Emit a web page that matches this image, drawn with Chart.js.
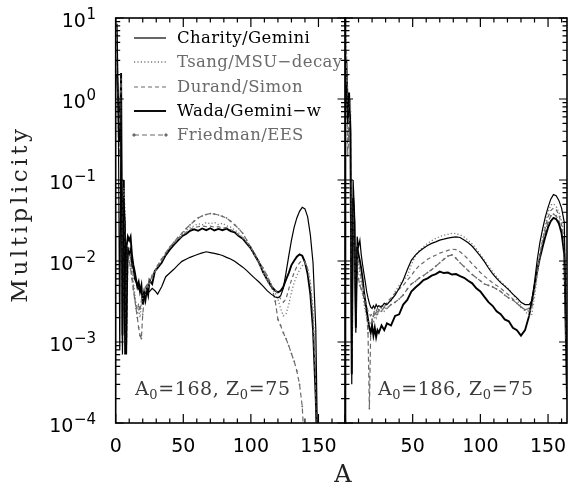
<!DOCTYPE html>
<html><head><meta charset="utf-8">
<script src="https://cdn.jsdelivr.net/npm/chart.js@4.4.0/dist/chart.umd.min.js"></script>
<style>
html,body{margin:0;padding:0;background:#fff;}
#wrap{position:relative;width:574px;height:484px;overflow:hidden;background:#fff;}
canvas{position:absolute;top:0;}
#c1{left:0;width:574px;height:484px;}
#c2{left:335px;width:239px;height:484px;}
</style></head><body>
<div id="wrap"><canvas id="c1" width="574" height="484"></canvas><canvas id="c2" width="239" height="484"></canvas></div>
<script>
// ---------------- data ----------------
const seriesNames = ['Charity/Gemini', 'Tsang/MSU\u2212decay', 'Durand/Simon', 'Wada/Gemini\u2212w', 'Friedman/EES'];
const yTickExponents = [1, 0, -1, -2, -3, -4];
const leftXTicks = [0, 50, 100, 150];
const rightXTicks = [50, 100, 150];
const panelA0 = [168, 186];
const panelZ0 = [75, 75];

const leftA = [1,2,3,4,5,6,7,8,9,10,11,12,13,14,15,16,17,18,19,20,21,22,23,24,25,
  27,29,31,
  34,37,40,43,46,49,52,55,58,61,64,67,70,73,76,79,82,85,88,91,94,97,100,103,106,109,112,115,118,
  120,122,124,126,128,130,132,134,136,138,140,142,144,146,148,150];

const leftCharity = [8.5,0.5,0.0008,1.2,0.0007,0.06,0.03,0.0007,0.015,0.012,0.014,0.009,0.008,0.006,0.0055,0.005,0.0045,0.0042,0.004,0.0038,0.0042,0.004,0.0039,0.0041,0.0042,
  0.0046,0.0043,0.0039,
  0.0048,0.0064,0.0071,0.0079,0.0089,0.0099,0.0105,0.0111,0.0116,0.0121,0.0126,0.0130,0.0127,0.0124,0.0121,0.0117,0.0111,0.0106,0.0099,0.0091,0.0084,0.0076,0.0068,0.0061,0.0055,0.0049,0.0043,0.0039,0.0036,
  0.0035,0.0037,0.0046,0.0072,0.0115,0.018,0.026,0.034,0.041,0.046,0.044,0.035,0.021,0.0094,0.0015,0.00001];

const leftTsang = [7,0.7,0.5,1.0,0.001,0.08,0.04,0.001,0.012,0.015,0.01,0.008,0.006,0.004,0.003,0.0022,0.0025,0.002,0.003,0.0035,0.0045,0.004,0.005,0.0048,0.006,
  0.0062,0.0078,0.0085,
  0.0105,0.0122,0.015,0.0168,0.0192,0.0212,0.0238,0.0258,0.0272,0.0288,0.028,0.0298,0.0288,0.0300,0.0282,0.0292,0.0272,0.0262,0.0242,0.0222,0.0192,0.0172,0.0142,0.0116,0.0091,0.0072,0.0057,0.0047,0.004,
  0.0034,0.0026,0.0021,0.0022,0.0029,0.0041,0.0054,0.0066,0.0077,0.0087,0.0092,0.0083,0.0056,0.0026,0.0004,0.00001];

const leftDurand = [5,0.4,0.6,1.8,0.0009,0.05,0.025,0.0009,0.01,0.013,0.011,0.007,0.005,0.0035,0.0028,0.0025,0.003,0.0024,0.0033,0.004,0.0042,0.0048,0.0045,0.0055,0.0052,
  0.0068,0.0072,0.0088,
  0.0100,0.0125,0.0145,0.0165,0.0185,0.0205,0.0225,0.0245,0.026,0.0265,0.027,0.0265,0.027,0.0262,0.0265,0.0255,0.0258,0.0245,0.023,0.021,0.0195,0.017,0.0148,0.0122,0.0098,0.0078,0.006,0.005,0.0044,
  0.0039,0.0034,0.0031,0.0034,0.0045,0.0058,0.0072,0.0085,0.0095,0.0102,0.0098,0.008,0.005,0.002,0.0003,0.00001];

const leftWada = [2.0,0.9,0.3,2.1,0.0012,0.1,0.0007,0.015,0.02,0.018,0.02,0.012,0.009,0.0075,0.006,0.0048,0.0055,0.0042,0.005,0.0029,0.004,0.0033,0.0045,0.0038,0.0058,
  0.0052,0.0075,0.0082,
  0.0095,0.0118,0.0138,0.0158,0.0178,0.0202,0.0215,0.0236,0.0246,0.0236,0.0252,0.0240,0.0254,0.0238,0.0249,0.0240,0.0251,0.0234,0.0226,0.0204,0.0189,0.0164,0.0143,0.0117,0.0096,0.0073,0.0059,0.0049,0.0043,
  0.0041,0.0043,0.0048,0.0059,0.0071,0.0089,0.0101,0.0113,0.0121,0.0116,0.0097,0.0069,0.0039,0.0014,0.0002,0.00001];

const leftFriedman = [3,0.3,0.2,0.8,0.002,0.03,0.02,0.002,0.012,0.01,0.008,0.006,0.0045,0.0035,0.0026,0.002,0.0015,0.0012,0.0011,0.0022,0.0032,0.0038,0.0044,0.005,0.0055,
  0.0065,0.0076,0.0088,
  0.0106,0.0126,0.0148,0.017,0.0195,0.022,0.025,0.028,0.031,0.034,0.036,0.0375,0.0385,0.038,0.037,0.0355,0.034,0.031,0.028,0.025,0.022,0.018,0.0148,0.012,0.0098,0.0082,0.0066,0.0052,0.0032,
  0.0019,0.0016,0.0013,0.0011,0.0009,0.00072,0.00058,0.00044,0.0003,0.00016,0.00004,null,null,null,null,null];

const rightA = [1,2,3,4,5,6,7,8,9,10,11,12,13,14,15,16,17,18,19,20,21,22,23,24,25,
  27,29,31,
  34,37,40,43,46,49,52,55,58,61,64,67,70,73,76,79,82,85,88,91,94,97,100,103,106,109,112,115,118,121,124,127,130,133,
  136,138,140,142,144,146,148,150,152,154,156,158,160,162,164,166];

const rightCharity = [1.5,0.5,0.8,0.6,0.0003,0.1,0.04,0.0013,0.02,0.015,0.018,0.012,0.009,0.007,0.0055,0.0042,0.0035,0.003,0.0027,0.0026,0.0028,0.0026,0.0029,0.0027,0.0028,
  0.0027,0.0030,0.0029,
  0.0033,0.0038,0.0046,0.0058,0.0078,0.0102,0.0118,0.0132,0.0144,0.0155,0.0165,0.0172,0.0181,0.0186,0.0192,0.0196,0.0199,0.0195,0.0182,0.0168,0.0152,0.0132,0.0115,0.0098,0.0082,0.0070,0.0061,0.0054,0.0049,0.0044,0.0039,0.0035,0.0031,0.0029,
  0.0029,0.0032,0.0055,0.0103,0.017,0.025,0.035,0.046,0.058,0.066,0.064,0.056,0.045,0.03,0.0003,0.000001];

const rightTsang = [6,0.3,0.5,1.0,0.0008,0.05,0.02,0.002,0.01,0.009,0.007,0.005,0.004,0.003,0.0024,0.002,0.0018,0.0016,0.0017,0.0019,0.0017,0.0022,0.002,0.0025,0.0023,
  0.0026,0.0024,0.003,
  0.0032,0.0042,0.005,0.0058,0.0064,0.009,0.0115,0.0135,0.015,0.0165,0.0178,0.019,0.020,0.0208,0.0213,0.022,0.0218,0.021,0.0198,0.018,0.0162,0.0142,0.012,0.0102,0.0086,0.0074,0.0064,0.0056,0.005,0.0045,0.0039,0.0033,0.0028,0.0024,
  0.0021,0.0022,0.0035,0.0065,0.012,0.019,0.028,0.04,0.049,0.051,0.047,0.04,0.031,0.02,0.0002,0.000001];

const rightDurand = [4,0.6,0.3,0.9,0.0006,0.04,0.03,0.0025,0.012,0.01,0.008,0.006,0.005,0.004,0.0033,0.0028,0.0024,0.0022,0.0021,0.0023,0.0022,0.0025,0.0024,0.0026,0.0025,
  0.0028,0.0027,0.0031,
  0.0035,0.004,0.0045,0.005,0.0058,0.0066,0.0078,0.0088,0.0096,0.0105,0.0112,0.0118,0.0125,0.013,0.0135,0.014,0.0138,0.013,0.0118,0.0105,0.0092,0.0082,0.0072,0.0065,0.0059,0.0054,0.005,0.0046,0.0042,0.0038,0.0034,0.003,0.0027,0.0025,
  0.0024,0.0026,0.0042,0.0072,0.012,0.018,0.026,0.035,0.042,0.045,0.043,0.037,0.028,0.017,0.0002,0.000001];

const rightWada = [3,0.8,1.2,0.4,0.0004,0.06,0.03,0.0015,0.015,0.012,0.01,0.008,0.006,0.0042,0.0032,0.0025,0.0019,0.0015,0.0013,0.0016,0.0012,0.0015,0.00115,0.0014,0.0013,
  0.0016,0.0014,0.0017,
  0.0016,0.0021,0.0022,0.0029,0.0033,0.0042,0.0047,0.0052,0.0058,0.0061,0.0066,0.0069,0.0074,0.0071,0.0072,0.0068,0.0069,0.0065,0.0062,0.0057,0.0053,0.0046,0.0042,0.0036,0.0031,0.0028,0.0024,0.0022,0.0019,0.0018,0.0015,0.0014,0.0012,0.0014,
  0.0021,0.0032,0.0048,0.0075,0.011,0.015,0.020,0.026,0.031,0.034,0.033,0.029,0.022,0.012,0.0002,0.000001];

const rightFriedman = [2,0.2,0.4,0.7,0.001,0.03,0.015,0.003,0.008,0.006,0.005,0.0045,0.004,0.0035,0.0028,0.0022,0.0013,0.00015,0.0014,0.0019,0.0021,0.0022,0.0023,0.0022,0.0025,
  0.0024,0.0027,0.0026,
  0.0029,0.0031,0.0034,0.0038,0.0045,0.0052,0.0056,0.0062,0.0066,0.0072,0.0078,0.0086,0.0095,0.0105,0.0115,0.0119,0.0108,0.0095,0.0085,0.0076,0.0068,0.0062,0.0057,0.0052,0.005,0.0048,0.0045,0.0042,0.0038,0.0035,0.0033,0.003,0.0027,0.0025,
  0.0026,0.0033,0.005,0.008,0.012,0.017,0.023,0.03,0.036,0.038,0.036,0.031,0.024,0.014,0.0002,0.000001];

// ---------------- styling ----------------
const BLACK = '#000000';
const GRAY = '#6a6a6a';
const styles = [
  {borderColor: BLACK, borderWidth: 1.2, borderDash: [], text: BLACK},
  {borderColor: '#7a7a7a', borderWidth: 1.3, borderDash: [1.2, 2.2], text: GRAY},
  {borderColor: GRAY, borderWidth: 1.2, borderDash: [4, 3], text: GRAY},
  {borderColor: BLACK, borderWidth: 1.9, borderDash: [], text: BLACK},
  {borderColor: GRAY, borderWidth: 1.2, borderDash: [5, 3], text: GRAY, markers: true}
];

function makeDatasets(xs, seriesList) {
  return seriesList.map((vals, i) => {
    const s = styles[i];
    return {
      label: seriesNames[i],
      data: xs.map((a, k) => ({x: a, y: vals[k]})),
      borderColor: s.borderColor,
      backgroundColor: s.borderColor,
      borderWidth: s.borderWidth,
      borderDash: s.borderDash,
      pointRadius: s.markers ? 1.1 : 0,
      pointStyle: 'rectRot',
      pointBorderWidth: 0,
      tension: 0,
      spanGaps: false,
      clip: 0,
      textColor: s.text,
      hasMarkers: !!s.markers
    };
  });
}

function setFont(ctx, f, spacing) {
  ctx.font = f;
  if ('letterSpacing' in ctx) ctx.letterSpacing = (spacing || 0) + 'px';
}

function drawSubText(ctx, x, y, parts, mainFont, subFont, spacing) {
  let cx = x;
  ctx.textAlign = 'left';
  ctx.textBaseline = 'alphabetic';
  for (const p of parts) {
    setFont(ctx, p.sub ? subFont : mainFont, spacing);
    ctx.fillText(p.t, cx, p.sub ? y + 3.5 : y);
    cx += ctx.measureText(p.t).width;
  }
}

const framePlugin = {
  id: 'frame',
  afterDraw(chart, args, opts) {
    const {ctx, chartArea: a} = chart;
    const x = chart.scales.x, y = chart.scales.y;
    ctx.save();
    // ticks
    ctx.strokeStyle = '#000';
    ctx.lineWidth = 1.2;
    ctx.setLineDash([]);
    ctx.beginPath();
    for (let v = 0; v <= x.max + 1e-9; v += 10) {
      const px = x.getPixelForValue(v);
      const len = v % 50 === 0 ? 9 : 4.5;
      ctx.moveTo(px, a.bottom); ctx.lineTo(px, a.bottom - len);
      ctx.moveTo(px, a.top); ctx.lineTo(px, a.top + len);
    }
    for (let e = -4; e <= 1; e++) {
      for (let m = 1; m <= 9; m++) {
        const v = m * Math.pow(10, e);
        if (v > 10.0001) break;
        const py = y.getPixelForValue(v);
        const len = m === 1 ? 8 : 4.5;
        ctx.moveTo(a.left, py); ctx.lineTo(a.left + len, py);
        ctx.moveTo(a.right, py); ctx.lineTo(a.right - len, py);
      }
    }
    ctx.stroke();
    ctx.lineWidth = 1.6;
    ctx.strokeRect(a.left, a.top, a.right - a.left, a.bottom - a.top);

    // x tick labels
    ctx.fillStyle = '#000';
    setFont(ctx, '19px "DejaVu Sans"', 0);
    ctx.textAlign = 'center';
    ctx.textBaseline = 'alphabetic';
    for (const v of opts.xTicks) {
      ctx.fillText(String(v), x.getPixelForValue(v), 452);
    }

    // y tick labels with exponents
    if (opts.yLabels) {
      for (const e of yTickExponents) {
        const py = y.getPixelForValue(Math.pow(10, e));
        const expStr = e < 0 ? '\u2212' + (-e) : String(e);
        setFont(ctx, '15px "DejaVu Sans"', 0);
        ctx.textAlign = 'right';
        const ew = ctx.measureText(expStr).width;
        ctx.fillText(expStr, 96, py + 1);
        setFont(ctx, '19px "DejaVu Sans"', 0);
        ctx.fillText('10', 96 - ew - 0.5, py + 8.5);
      }
      // y title
      ctx.save();
      ctx.translate(21, 214);
      ctx.rotate(-Math.PI / 2);
      setFont(ctx, '23px "DejaVu Serif"', 3.6);
      ctx.textAlign = 'center';
      ctx.textBaseline = 'middle';
      ctx.fillStyle = '#222';
      ctx.fillText('Multiplicity', 0, 0);
      ctx.restore();
      // x title
      setFont(ctx, '24px "DejaVu Serif"', 0);
      ctx.textAlign = 'center';
      ctx.textBaseline = 'alphabetic';
      ctx.fillStyle = '#222';
      ctx.fillText('A', 343, 482);

      // legend
      const rows = [38, 62, 87, 111, 135];
      chart.data.datasets.forEach((ds, i) => {
        const ry = rows[i];
        ctx.strokeStyle = ds.borderColor;
        ctx.lineWidth = ds.borderWidth;
        ctx.setLineDash(ds.borderDash);
        ctx.beginPath();
        ctx.moveTo(134, ry); ctx.lineTo(166, ry);
        ctx.stroke();
        ctx.setLineDash([]);
        if (ds.hasMarkers) {
          ctx.fillStyle = ds.borderColor;
          for (const mx of [134, 166]) {
            ctx.beginPath();
            ctx.moveTo(mx, ry - 2); ctx.lineTo(mx + 2, ry); ctx.lineTo(mx, ry + 2); ctx.lineTo(mx - 2, ry);
            ctx.closePath(); ctx.fill();
          }
        }
        ctx.fillStyle = ds.textColor;
        setFont(ctx, '16.5px "DejaVu Serif"', 0.4);
        ctx.textAlign = 'left';
        ctx.textBaseline = 'middle';
        ctx.fillText(ds.label, 177, ry + 0.5);
      });
    }

    // annotation
    ctx.fillStyle = '#3a3a3a';
    const p = opts.panel;
    drawSubText(ctx, opts.annX, 395,
      [{t: 'A'}, {t: '0', sub: true}, {t: '=' + panelA0[p] + ', Z'}, {t: '0', sub: true}, {t: '=' + panelZ0[p]}],
      '19px "DejaVu Serif"', '13px "DejaVu Serif"', 0.6);
    ctx.restore();
  }
};

function makeChart(id, xs, series, xMax, padding, yWidth, frameOpts) {
  const cfg = {
    type: 'line',
    data: {datasets: makeDatasets(xs, series)},
    options: {
      responsive: false,
      animation: false,
      devicePixelRatio: 1,
      events: [],
      layout: {padding: padding},
      scales: {
        x: {type: 'linear', min: 0, max: xMax,
            ticks: {display: false}, grid: {display: false}, border: {display: false},
            afterFit(s) { s.height = 61; }},
        y: {type: 'logarithmic', min: 1e-4, max: 10, display: yWidth > 0,
            ticks: {display: false}, grid: {display: false}, border: {display: false},
            afterFit(s) { s.width = yWidth; }}
      },
      plugins: {legend: {display: false}, tooltip: {enabled: false}, frame: frameOpts}
    },
    plugins: [framePlugin]
  };
  return new Chart(document.getElementById(id), cfg);
}

makeChart('c1', leftA, [leftCharity, leftTsang, leftDurand, leftWada, leftFriedman], 170,
  {top: 18, right: 574 - 345.5, bottom: 0, left: 0}, 115.7,
  {xTicks: leftXTicks, yLabels: true, panel: 0, annX: 135});

makeChart('c2', rightA, [rightCharity, rightTsang, rightDurand, rightWada, rightFriedman], 164,
  {top: 18, right: 7, bottom: 0, left: 10}, 0,
  {xTicks: rightXTicks, yLabels: false, panel: 1, annX: 378 - 335});
</script>
</body></html>
